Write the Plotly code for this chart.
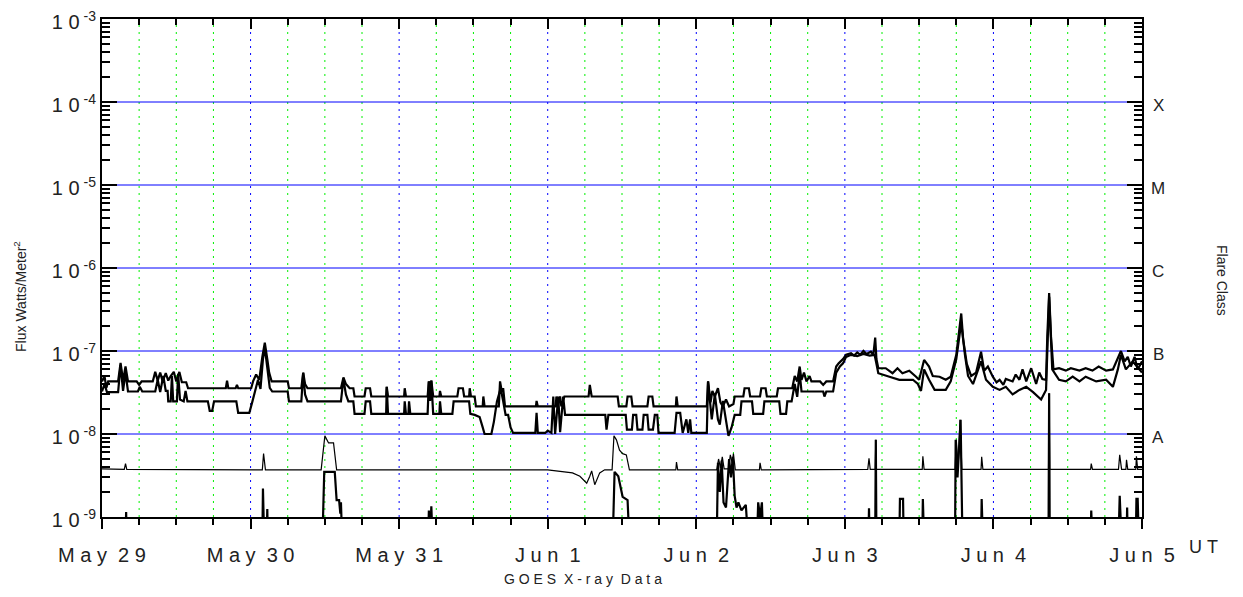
import plotly.graph_objects as go

# ---- data: hours since 1998-05-29 00:00 UT, flux in W/m^2 ----
LONG_A = [(0,4.3e-8),(0.4,5.0e-8),(0.7,3.6e-8),(1.0,4.3e-8),(2.6,4.3e-8),(3.0,7.2e-8),(3.4,4.4e-8),(3.8,6.5e-8),(4.2,4.3e-8),
(5.6,4.3e-8),(6.0,3.9e-8),(6.4,4.3e-8),(8.2,4.3e-8),(8.6,5.6e-8),(9.0,4.4e-8),(9.4,5.5e-8),(9.8,4.3e-8),(10.3,5.4e-8),
(10.7,4.4e-8),(11.1,5.0e-8),(11.6,5.6e-8),(12.0,4.3e-8),(12.5,5.6e-8),(12.9,4.2e-8),(13.6,4.2e-8),(13.9,3.56e-8),
(20.0,3.56e-8),(20.2,4.4e-8),(20.4,3.56e-8),(21.6,3.56e-8),(21.8,3.9e-8),(22.0,3.56e-8),(24.1,3.56e-8),(24.4,4.3e-8),
(24.9,5.2e-8),(25.4,4.5e-8),(25.9,8.5e-8),(26.3,1.26e-7),(26.7,8.0e-8),(27.0,5.5e-8),(27.4,4.3e-8),(30.0,4.3e-8),
(30.2,3.56e-8),(32.2,3.56e-8),(32.5,5.5e-8),(32.8,4.0e-8),(33.2,3.56e-8),(38.6,3.56e-8),(39.0,4.8e-8),(39.4,4.0e-8),
(40.0,3.56e-8),(40.6,3.56e-8),(40.8,2.83e-8),(42.4,2.83e-8),(42.6,3.56e-8),(43.3,3.56e-8),(43.5,2.83e-8),(45.9,2.83e-8),
(46.0,3.7e-8),(46.2,2.83e-8),(48.8,2.83e-8),(48.9,3.56e-8),(49.1,2.83e-8),(52.6,2.83e-8),(52.8,4.3e-8),(53.0,3.2e-8),
(53.2,4.4e-8),(53.5,2.83e-8),(54.5,2.83e-8),(54.6,3.3e-8),(54.8,2.83e-8),(57.4,2.83e-8),(57.6,3.56e-8),(58.3,3.56e-8),
(58.5,2.83e-8),(59.3,2.83e-8),(59.4,3.56e-8),(59.6,2.83e-8),(60.2,2.83e-8),(60.4,2.15e-8),(61.5,2.15e-8),(61.6,2.83e-8),
(61.8,2.15e-8),(64.1,2.15e-8),(64.3,4.3e-8),(64.6,3.2e-8),(64.8,3.56e-8),(65.1,2.15e-8),(70.1,2.15e-8),(70.2,2.5e-8),
(70.4,2.15e-8),(73.3,2.15e-8),(73.4,2.83e-8),(73.6,2.15e-8),(74.0,2.83e-8),(74.2,2.15e-8),(74.7,2.83e-8),(78.6,2.83e-8),
(78.8,3.9e-8),(79.1,2.83e-8),(83.3,2.83e-8),(83.5,2.15e-8),(84.7,2.15e-8),(84.9,2.83e-8),(85.5,2.83e-8),(85.7,2.15e-8),
(88.1,2.15e-8),(88.3,2.83e-8),(88.9,2.83e-8),(89.1,2.15e-8),(92.7,2.15e-8),(92.8,2.83e-8),(93.0,2.15e-8),(97.7,2.15e-8),
(97.9,4.3e-8),(98.3,2.4e-8),(98.6,3.3e-8),(99.0,2.83e-8),(99.5,3.56e-8),(99.9,2.4e-8),(100.3,2.15e-8),(100.8,2.6e-8),
(101.3,2.15e-8),(102.0,2.3e-8),(102.2,2.83e-8),(103.6,2.83e-8),(103.8,3.56e-8),(104.5,3.56e-8),(104.7,2.83e-8),
(106.3,2.83e-8),(106.5,3.56e-8),(107.2,3.56e-8),(107.4,2.83e-8),(109.0,2.83e-8),(109.2,3.56e-8),(111.5,3.56e-8),
(111.9,5.0e-8),(112.3,4.3e-8),(112.7,6.5e-8),(113.0,4.5e-8),(113.4,5.5e-8),(113.8,4.3e-8),(114.3,5.0e-8),(114.6,4.3e-8),
(116.0,4.3e-8),(116.5,3.9e-8),(117.0,4.3e-8),(118.1,4.3e-8),(118.6,6.5e-8),(119.0,7.1e-8),(119.7,8.0e-8),(120.2,9.0e-8),
(121.0,9.4e-8),(121.5,8.8e-8),(122.0,9.6e-8),(122.5,9.0e-8),(123.0,1.0e-7),(123.5,9.2e-8),(124.2,9.8e-8),(124.6,9.0e-8),
(124.9,1.45e-7),(125.1,8.0e-8),(125.4,6.2e-8),(126.6,6.2e-8),(127.7,5.4e-8),(128.5,6.2e-8),(129.3,5.4e-8),(130.4,5.8e-8),
(131.5,4.9e-8),(132.0,4.5e-8),(132.8,7.8e-8),(133.6,6.5e-8),(134.2,5.0e-8),(135.3,4.9e-8),(136.3,4.5e-8),(137.1,4.9e-8),
(138.0,9.0e-8),(138.4,1.5e-7),(138.8,2.83e-7),(139.1,1.4e-7),(139.7,7.0e-8),(140.4,5.0e-8),(141.2,5.5e-8),(142.0,9.8e-8),
(142.5,5.8e-8),(143.1,6.5e-8),(143.9,4.9e-8),(144.5,4.2e-8),(145.0,4.5e-8),(145.6,3.9e-8),(146.0,4.6e-8),(147.1,4.3e-8),
(147.6,5.2e-8),(148.2,4.5e-8),(148.7,6.0e-8),(149.3,4.3e-8),(150.1,6.2e-8),(150.9,4.0e-8),(151.4,5.5e-8),(151.9,4.6e-8),
(152.5,4.5e-8),(152.7,1.5e-7),(153.0,5.0e-7),(153.3,1.5e-7),(153.7,6.0e-8),(154.6,6.2e-8),(155.7,5.8e-8),(156.5,6.2e-8),
(157.9,5.8e-8),(158.9,6.2e-8),(160.0,5.8e-8),(161.0,6.5e-8),(162.2,5.8e-8),(163.3,6.0e-8),(164.1,8.0e-8),(164.6,1.0e-7),
(165.2,7.5e-8),(165.7,8.5e-8),(166.2,6.5e-8),(166.8,8.5e-8),(167.3,6.0e-8),(168.0,7.5e-8)]

LONG_B = [(0,3.25e-8),(0.4,4.0e-8),(0.8,3.2e-8),(2.6,3.2e-8),(3.0,6.8e-8),(3.4,3.3e-8),(3.8,5.5e-8),(4.2,3.25e-8),
(5.8,3.25e-8),(6.1,3.7e-8),(6.5,3.25e-8),(8.6,3.25e-8),(9.0,4.5e-8),(9.4,3.2e-8),(9.9,5.0e-8),(10.3,3.3e-8),(10.6,3.3e-8),
(10.7,2.47e-8),(11.1,2.47e-8),(11.3,5.0e-8),(11.5,2.47e-8),(12.1,2.47e-8),(12.3,5.3e-8),(12.6,2.6e-8),(13.2,2.47e-8),
(13.5,3.3e-8),(13.8,2.47e-8),(17.1,2.47e-8),(17.4,1.9e-8),(17.8,1.9e-8),(18.1,2.47e-8),(21.7,2.47e-8),(22.0,1.8e-8),
(23.8,1.8e-8),(24.3,2.47e-8),(24.7,3.25e-8),(25.2,4.5e-8),(25.6,3.5e-8),(26.0,8.0e-8),(26.3,1.1e-7),(26.7,6.0e-8),
(27.1,3.6e-8),(27.5,3.25e-8),(30.0,3.25e-8),(30.2,2.47e-8),(32.2,2.47e-8),(32.5,5.4e-8),(32.8,3.0e-8),(33.2,2.47e-8),
(38.6,2.47e-8),(39.0,4.6e-8),(39.4,3.0e-8),(39.8,2.47e-8),(40.6,2.47e-8),(40.8,1.75e-8),(42.4,1.75e-8),(42.6,2.47e-8),
(43.3,2.47e-8),(43.5,1.75e-8),(45.9,1.75e-8),(46.0,3.7e-8),(46.2,1.75e-8),(48.8,1.75e-8),(48.9,2.47e-8),(49.1,1.75e-8),
(49.5,1.75e-8),(49.6,2.47e-8),(49.8,1.75e-8),(52.6,1.75e-8),(52.8,4.3e-8),(53.0,2.5e-8),(53.2,4.4e-8),(53.5,1.75e-8),
(54.5,1.75e-8),(54.6,2.47e-8),(54.8,1.75e-8),(56.6,1.75e-8),(56.8,2.47e-8),(59.3,2.47e-8),(59.5,1.75e-8),(60.2,1.7e-8),
(61.0,1.6e-8),(61.5,1.2e-8),(61.8,1.0e-8),(62.9,1.0e-8),(63.3,1.4e-8),(63.8,2.47e-8),(64.4,3.56e-8),(64.8,2.5e-8),
(65.2,1.7e-8),(65.6,1.7e-8),(66.0,1.2e-8),(66.4,1.03e-8),(70.0,1.03e-8),(70.2,1.8e-8),(70.4,1.03e-8),(71.6,1.03e-8),
(72.0,1.1e-8),(72.6,1.03e-8),(72.9,2.83e-8),(73.2,1.0e-8),(73.7,2.83e-8),(74.0,1.05e-8),(74.5,2.83e-8),(74.8,1.7e-8),
(81.3,1.7e-8),(81.5,1.13e-8),(81.8,1.7e-8),(84.6,1.7e-8),(84.8,1.13e-8),(85.6,1.13e-8),(85.8,1.7e-8),(86.3,1.7e-8),
(86.5,1.13e-8),(87.3,1.13e-8),(87.5,1.7e-8),(88.1,1.7e-8),(88.3,1.13e-8),(89.0,1.13e-8),(89.3,1.7e-8),(89.7,1.7e-8),
(89.9,1.03e-8),(92.5,1.03e-8),(92.8,1.8e-8),(93.4,1.8e-8),(93.8,1.03e-8),(94.4,1.5e-8),(94.7,1.03e-8),(95.0,1.5e-8),
(95.2,1.03e-8),(97.7,1.03e-8),(97.9,4.3e-8),(98.5,1.5e-8),(99.0,3.0e-8),(99.5,1.5e-8),(99.8,1.3e-8),(100.3,2.5e-8),
(100.8,1.4e-8),(101.2,9.5e-9),(101.7,1.2e-8),(102.2,1.7e-8),(103.1,1.7e-8),(103.3,2.47e-8),(105.0,2.47e-8),(105.2,1.75e-8),
(106.8,1.75e-8),(107.0,2.47e-8),(109.4,2.47e-8),(109.6,1.75e-8),(110.5,1.75e-8),(110.7,2.47e-8),(111.4,2.47e-8),
(111.9,4.0e-8),(112.3,2.8e-8),(112.7,5.5e-8),(113.0,3.25e-8),(116.5,3.25e-8),(116.7,2.83e-8),(117.0,3.25e-8),(118.1,3.25e-8),
(118.6,5.5e-8),(119.2,6.5e-8),(119.7,7.1e-8),(120.2,8.5e-8),(121.0,9.0e-8),(122.0,8.7e-8),(123.0,9.2e-8),(124.0,8.8e-8),
(124.8,9.0e-8),(125.1,7.0e-8),(125.4,5.4e-8),(127.2,4.9e-8),(128.8,4.5e-8),(131.0,4.5e-8),(131.8,4.0e-8),(132.3,3.3e-8),
(132.8,6.0e-8),(133.6,4.5e-8),(134.5,3.4e-8),(136.3,3.4e-8),(137.1,4.3e-8),(138.0,8.0e-8),(138.8,2.2e-7),(139.4,9.0e-8),
(139.9,5.0e-8),(140.7,4.0e-8),(142.0,7.5e-8),(142.8,4.5e-8),(143.9,3.7e-8),(145.0,3.4e-8),(146.0,3.7e-8),(147.1,3.0e-8),
(148.2,3.4e-8),(149.3,3.7e-8),(150.4,3.2e-8),(151.7,2.6e-8),(152.5,3.4e-8),(153.0,4.5e-7),(153.5,6.0e-8),(154.6,4.5e-8),
(155.7,4.3e-8),(156.8,4.9e-8),(157.9,4.3e-8),(158.9,4.9e-8),(160.6,4.3e-8),(162.2,4.5e-8),(163.3,3.7e-8),(164.1,6.0e-8),
(164.6,9.0e-8),(165.4,6.0e-8),(166.5,7.5e-8),(168.0,5.5e-8)]

SHORT_C = [(0,3.8e-9),(3.6,3.75e-9),(3.8,4.4e-9),(4.0,3.75e-9),(25.9,3.7e-9),(26.1,5.8e-9),(26.4,3.7e-9),(35.4,3.7e-9),
(36.0,9.5e-9),(36.6,7.8e-9),(37.4,7.8e-9),(37.9,3.7e-9),(72.0,3.7e-9),(76.0,3.4e-9),(77.2,3.1e-9),(78.3,2.55e-9),
(78.8,3.1e-9),(79.1,3.6e-9),(79.6,2.45e-9),(80.4,3.4e-9),(81.2,3.7e-9),(82.4,3.7e-9),(82.7,9.5e-9),(83.1,8.5e-9),
(83.6,6.4e-9),(84.1,5.8e-9),(84.7,5.6e-9),(85.2,3.7e-9),(92.7,3.7e-9),(92.8,4.6e-9),(93.0,3.7e-9),(99.3,3.7e-9),
(99.6,5.0e-9),(99.9,3.9e-9),(100.2,5.3e-9),(100.5,3.8e-9),(101.2,3.8e-9),(101.5,5.6e-9),(101.8,4.5e-9),(102.0,5.8e-9),
(102.3,3.7e-9),(106.2,3.7e-9),(106.3,4.5e-9),(106.5,3.7e-9),(123.7,3.75e-9),(123.9,5.1e-9),(124.1,3.75e-9),(124.9,3.75e-9),
(125.0,8.5e-9),(125.1,3.75e-9),(132.5,3.75e-9),(132.6,5.4e-9),(132.8,3.75e-9),(137.8,3.75e-9),(138.0,8.5e-9),(138.3,4.0e-9),
(138.6,1.48e-8),(138.9,3.75e-9),(142.0,3.75e-9),(142.1,5.3e-9),(142.3,3.75e-9),(152.9,3.75e-9),(153.0,3.1e-8),
(153.1,3.75e-9),(159.7,3.75e-9),(159.8,4.4e-9),(160.0,3.75e-9),(164.2,3.75e-9),(164.4,5.6e-9),(164.7,3.75e-9),
(165.4,3.75e-9),(165.5,4.9e-9),(165.7,3.75e-9),(167.0,3.75e-9),(167.1,5.4e-9),(167.3,3.75e-9),(168,3.75e-9)]

SHORT_D = [(0,5e-10),(3.8,5e-10),(3.9,1.15e-9),(4.0,5e-10),(25.9,5e-10),(26.0,2.2e-9),(26.2,5e-10),(26.6,5e-10),
(26.7,1.25e-9),(26.8,5e-10),(35.6,5e-10),(35.9,3.5e-9),(37.6,3.5e-9),(37.9,1.6e-9),(38.3,1.6e-9),(38.5,1.1e-9),
(38.6,1.5e-9),(38.8,5e-10),(52.7,5e-10),(52.8,1.2e-9),(53.0,5e-10),(53.2,1.35e-9),(53.4,5e-10),(82.5,5e-10),
(82.8,3.5e-9),(83.4,3.1e-9),(84.1,1.75e-9),(84.9,1.6e-9),(85.2,5e-10),(99.3,5e-10),(99.5,4.5e-9),(99.8,2.0e-9),
(100.1,4.8e-9),(100.4,1.5e-9),(100.8,1.3e-9),(101.3,5.0e-9),(101.6,3.0e-9),(101.9,5.3e-9),(102.2,1.8e-9),(102.5,1.3e-9),
(102.8,1.5e-9),(103.3,1.2e-9),(104.0,1.4e-9),(104.4,5e-10),(105.8,5e-10),(106.0,1.5e-9),(106.3,1.0e-9),(106.6,1.5e-9),
(106.8,5e-10),(123.8,5e-10),(123.9,1.27e-9),(124.0,5e-10),(124.9,5e-10),(125.0,8.5e-9),(125.1,5e-10),(128.8,5e-10),
(128.9,1.65e-9),(129.4,1.65e-9),(129.5,5e-10),(132.5,5e-10),(132.6,1.65e-9),(132.8,5e-10),(137.8,5e-10),(137.9,8.5e-9),
(138.2,3.0e-9),(138.7,1.48e-8),(139.0,5e-10),(142.0,5e-10),(142.1,1.65e-9),(142.3,5e-10),(152.9,5e-10),(153.0,3.1e-8),
(153.1,5e-10),(159.7,5e-10),(159.8,1.2e-9),(160.0,5e-10),(164.2,5e-10),(164.4,1.8e-9),(164.7,5e-10),(165.5,5e-10),
(165.6,1.3e-9),(165.7,5e-10),(167.0,5e-10),(167.1,1.65e-9),(167.3,1.65e-9),(167.5,5e-10),(168,5e-10)]

DAY_HOURS = [0, 24, 48, 72, 96, 120, 144, 168]
DAY_LABELS = ["May 29", "May 30", "May 31", "Jun 1", "Jun 2", "Jun 3", "Jun 4", "Jun 5"]
DECADES = [1e-9, 1e-8, 1e-7, 1e-6, 1e-5, 1e-4, 1e-3]
DECADE_EXP = [-9, -8, -7, -6, -5, -4, -3]
FLARE_CLASSES = ["A", "B", "C", "M", "X"]
FLARE_EXP = [-8, -7, -6, -5, -4]

NB = "\u00a0"
def spaced(s):
    return (NB * 2).join(NB.join(w) for w in s.split(" "))

FONT = "Liberation Sans, Arial, sans-serif"
TXT = "#222"
fig = go.Figure()

def add(series, width):
    fig.add_trace(go.Scatter(x=[p[0] for p in series], y=[p[1] for p in series], mode="lines",
                             line=dict(color="black", width=width), hoverinfo="skip", showlegend=False))

add(LONG_A, 2.2)
add(LONG_B, 2.2)
add(SHORT_C, 1.2)
add(SHORT_D, 2.2)
fig.add_trace(go.Scatter(x=[0], y=[1e-12], xaxis="x2", mode="lines", showlegend=False, hoverinfo="skip"))

# grid lines (styling): dotted verticals every 6 h, blue at day boundaries, green otherwise
shapes = []
for h in range(6, 168, 6):
    shapes.append(dict(type="line", xref="x", yref="paper", x0=h, x1=h, y0=0, y1=1, layer="below",
                       line=dict(color="#0000ff" if h % 24 == 0 else "#00f000", width=1, dash="2px,5px")))
for v in DECADES[1:-1]:
    shapes.append(dict(type="line", xref="paper", yref="y", x0=0, x1=1, y0=v, y1=v, layer="below",
                       line=dict(color="#0000ff", width=1)))

# the page body has an 8px margin, so the figure is 8px smaller than the window on each axis
fig.update_layout(
    width=1235, height=589,
    margin=dict(l=94, r=101, t=11, b=80, autoexpand=False),
    paper_bgcolor="white", plot_bgcolor="white",
    font=dict(family=FONT, color=TXT),
    shapes=shapes,
    xaxis=dict(range=[0, 168], tickmode="array", tickvals=DAY_HOURS,
               ticktext=[spaced(s) for s in DAY_LABELS], automargin=False,
               ticks="outside", ticklen=10, tickwidth=2, tickcolor="black",
               showline=True, linewidth=2, linecolor="black", mirror=True,
               showgrid=False, zeroline=False,
               tickfont=dict(size=20, family=FONT, color=TXT), ticklabelstandoff=9,
               minor=dict(tickmode="linear", tick0=0, dtick=6, ticks="outside", ticklen=6,
                          tickwidth=2, tickcolor="black", showgrid=False)),
    xaxis2=dict(range=[0, 168], overlaying="x", side="top", tickmode="array", tickvals=DAY_HOURS,
                ticks="inside", ticklen=10, tickwidth=2, tickcolor="black", automargin=False,
                showticklabels=False, showgrid=False, showline=True, linewidth=2, linecolor="black",
                zeroline=False,
                minor=dict(tickmode="linear", tick0=0, dtick=6, ticks="inside", ticklen=6,
                           tickwidth=2, tickcolor="black", showgrid=False)),
    yaxis=dict(type="log", range=[-9, -3], tickmode="array", tickvals=DECADES,
               ticktext=[f"1{NB}0<sup>{NB}{e}</sup>" for e in DECADE_EXP], automargin=False,
               ticks="inside", ticklen=15, tickwidth=2, tickcolor="black",
               showline=True, linewidth=2, linecolor="black", mirror="ticks",
               showgrid=False, zeroline=False, ticklabeloverflow="allow", ticklabelshift=3,
               tickfont=dict(size=20, family=FONT, color=TXT),
               minor=dict(dtick="D1", ticks="inside", ticklen=8, tickwidth=2, tickcolor="black",
                          showgrid=False)),
)

ann = []
for c, e in zip(FLARE_CLASSES, FLARE_EXP):
    ann.append(dict(x=1.0154, y=e, xref="paper", yref="y", text=c, showarrow=False,
                    xanchor="center", yanchor="middle", yshift=-3, font=dict(size=17, family=FONT, color=TXT)))
ann.append(dict(x=-0.0788, y=0.442, xref="paper", yref="paper", text="Flux Watts/Meter<sup>2</sup>",
                textangle=-90, showarrow=False, xanchor="center", yanchor="middle",
                font=dict(size=14, family=FONT, color=TXT)))
ann.append(dict(x=1.0769, y=0.474, xref="paper", yref="paper", text="Flare Class",
                textangle=90, showarrow=False, xanchor="center", yanchor="middle",
                font=dict(size=14, family=FONT, color=TXT)))
ann.append(dict(x=1.0587, y=-0.060, xref="paper", yref="paper", text=spaced("UT"),
                showarrow=False, xanchor="center", yanchor="middle",
                font=dict(size=18, family=FONT, color=TXT)))
ann.append(dict(x=0.4625, y=-0.1245, xref="paper", yref="paper", text=spaced("GOES X-ray Data"),
                showarrow=False, xanchor="center", yanchor="middle",
                font=dict(size=14, family=FONT, color=TXT)))
fig.update_layout(annotations=ann)

fig.write_html("out.html")
